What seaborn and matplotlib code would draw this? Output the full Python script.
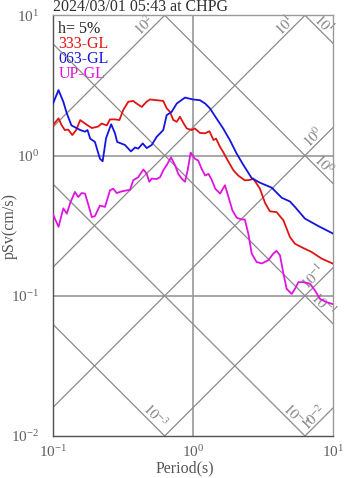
import numpy as np
import pandas as pd
import matplotlib
matplotlib.use("Agg")
import matplotlib.pyplot as plt
import seaborn as sns

# ---- chart text -------------------------------------------------------
title_text = "2024/03/01 05:43 at CHPG"
damping_text = "h= 5%"
series_names = ["333-GL", "063-GL", "UP-GL"]
series_colors = ["#e01414", "#1414e0", "#e014e0"]

# ---- response spectra (period in s, pseudo velocity in cm/s) ------------
period_333 = [0.100, 0.110, 0.116, 0.122, 0.129, 0.138, 0.147, 0.157, 0.170, 0.190,
              0.211, 0.223, 0.243, 0.256, 0.278, 0.299, 0.318, 0.346, 0.375, 0.396,
              0.431, 0.467, 0.493, 0.551, 0.614, 0.649, 0.685, 0.724, 0.766, 0.807,
              0.853, 0.902, 0.977, 1.03, 1.12, 1.22, 1.31, 1.40, 1.46, 1.56,
              1.64, 1.74, 1.94, 2.10, 2.34, 2.55, 2.69, 3.00, 3.26, 3.53,
              3.94, 4.41, 4.91, 5.33, 5.94, 7.01, 8.26, 10.0]
psv_333 = [1.64, 1.84, 1.64, 1.52, 1.53, 1.40, 1.52, 1.79, 1.69, 1.57,
           1.61, 1.69, 1.64, 1.81, 1.81, 1.79, 2.11, 2.42, 2.45, 2.35,
           2.22, 2.42, 2.51, 2.48, 2.45, 2.17, 2.05, 1.79, 1.74, 1.89,
           1.71, 1.56, 1.52, 1.56, 1.45, 1.44, 1.49, 1.29, 1.32, 1.15,
           1.06, 0.95, 0.785, 0.72, 0.665, 0.67, 0.685, 0.58, 0.46, 0.40,
           0.395, 0.345, 0.262, 0.235, 0.222, 0.205, 0.184, 0.169]

period_063 = [0.100, 0.110, 0.119, 0.126, 0.136, 0.157, 0.170, 0.177, 0.185, 0.200,
              0.217, 0.227, 0.240, 0.261, 0.278, 0.288, 0.327, 0.361, 0.386, 0.407,
              0.438, 0.468, 0.508, 0.551, 0.614, 0.649, 0.705, 0.766, 0.877, 1.00,
              1.12, 1.22, 1.32, 1.47, 1.64, 1.83, 2.05, 2.28, 2.62, 3.00,
              3.64, 4.29, 4.91, 5.33, 6.28, 7.78, 10.0]
psv_063 = [2.32, 2.93, 2.42, 2.00, 1.64, 1.52, 1.48, 1.52, 1.32, 1.25,
           0.95, 0.91, 1.33, 1.67, 1.44, 1.25, 1.19, 1.07, 1.14, 1.12,
           1.22, 1.13, 1.19, 1.36, 1.52, 1.94, 2.05, 2.35, 2.59, 2.51,
           2.48, 2.35, 2.17, 1.84, 1.56, 1.29, 1.03, 0.86, 0.69, 0.64,
           0.59, 0.50, 0.47, 0.43, 0.355, 0.315, 0.277]

period_up = [0.100, 0.110, 0.119, 0.126, 0.134, 0.144, 0.152, 0.161, 0.170, 0.179,
             0.190, 0.200, 0.217, 0.236, 0.256, 0.270, 0.286, 0.310, 0.356, 0.375,
             0.407, 0.443, 0.468, 0.488, 0.508, 0.551, 0.582, 0.614, 0.649, 0.697,
             0.745, 0.785, 0.830, 0.877, 0.916, 0.962, 1.03, 1.09, 1.15, 1.22,
             1.29, 1.36, 1.44, 1.56, 1.69, 1.79, 1.91, 2.05, 2.22, 2.34,
             2.48, 2.62, 2.84, 3.09, 3.44, 3.74, 3.94, 4.17, 4.41, 4.65,
             5.05, 5.33, 5.64, 6.11, 6.82, 7.40, 8.04, 8.95, 10.0]
psv_up = [0.385, 0.31, 0.42, 0.385, 0.466, 0.55, 0.506, 0.54, 0.535, 0.45,
          0.364, 0.37, 0.44, 0.43, 0.565, 0.58, 0.54, 0.555, 0.57, 0.667,
          0.70, 0.795, 0.74, 0.65, 0.685, 0.68, 0.70, 0.785, 0.853, 0.97,
          0.853, 0.74, 0.685, 0.65, 0.785, 1.05, 0.95, 0.92, 0.807, 0.72,
          0.74, 0.67, 0.58, 0.535, 0.614, 0.506, 0.406, 0.36, 0.35, 0.35,
          0.277, 0.20, 0.174, 0.17, 0.179, 0.20, 0.209, 0.194, 0.144, 0.112,
          0.103, 0.112, 0.125, 0.125, 0.122, 0.109, 0.095, 0.09, 0.087]

# ---- tripartite guide lines ----------------------------------------------
accel_levels = [1e2, 1e1, 1e0, 1e-1, 1e-2]          # cm/s^2
accel_labels = ["10^{2}", "10^{1}", "10^{0}", "10^{-1}", "10^{-2}"]
disp_levels = [1e1, 1e0, 1e-1, 1e-2, 1e-3]          # cm
disp_labels = ["10^{1}", "10^{0}", "10^{-1}", "10^{-3}", "10^{-3}"]

t_min, t_max = 0.1, 10.0
v_min, v_max = 0.01, 10.0

sns.set_style("white")
plt.rcParams["font.family"] = ["Liberation Serif", "DejaVu Serif"]
plt.rcParams["mathtext.fontset"] = "stix"

fig = plt.figure(figsize=(3.47, 4.78), dpi=100)
ax = fig.add_axes([0.1519, 0.0879, 0.8086, 0.8801])
ax.set_xscale("log")
ax.set_yscale("log")
ax.set_xlim(t_min, t_max)
ax.set_ylim(v_min, v_max)

guide_col = "#8a8a8a"
label_col = "#808080"
tt = np.logspace(-1, 1, 50)
two_pi = 2 * np.pi

# grid through the decades inside the frame
ax.axvline(1.0, color="#a0a0a0", lw=1.3, zorder=1)
for v in (1.0, 0.1):
    ax.axhline(v, color="#a0a0a0", lw=1.3, zorder=1)

back = 0.105   # decades back from the end of a guide line
perp = 3.6     # points away from the line

for sa, lab in zip(accel_levels, accel_labels):
    ax.plot(tt, sa * tt / two_pi, color=guide_col, lw=0.9, zorder=1)
    t_top = two_pi * v_max / sa
    if t_top <= t_max:
        lt, lv = np.log10(t_top), np.log10(v_max)
    else:
        lt, lv = np.log10(t_max), np.log10(sa * t_max / two_pi)
    ax.annotate(f"${lab}$", xy=(10 ** (lt - back), 10 ** (lv - back)),
                xytext=(-perp, perp), textcoords="offset points",
                rotation=45, ha="center", va="center", fontsize=10.5,
                color=label_col, zorder=2)

for d, lab in zip(disp_levels, disp_labels):
    ax.plot(tt, two_pi * d / tt, color=guide_col, lw=0.9, zorder=1)
    v_right = two_pi * d / t_max
    if v_right >= v_min:
        lt, lv = np.log10(t_max), np.log10(v_right)
    else:
        lt, lv = np.log10(two_pi * d / v_min), np.log10(v_min)
    ax.annotate(f"${lab}$", xy=(10 ** (lt - back), 10 ** (lv + back)),
                xytext=(perp, perp), textcoords="offset points",
                rotation=-45, ha="center", va="center", fontsize=10.5,
                color=label_col, zorder=2)

# spectra
frames = []
for name, per, psv in zip(series_names,
                          [period_333, period_063, period_up],
                          [psv_333, psv_063, psv_up]):
    frames.append(pd.DataFrame({"Period": per, "pSv": psv, "comp": name}))
spec = pd.concat(frames, ignore_index=True)
sns.lineplot(data=spec, x="Period", y="pSv", hue="comp",
             palette=dict(zip(series_names, series_colors)),
             estimator=None, sort=False, lw=1.3, legend=False, ax=ax, zorder=3)

# frame and ticks
for side in ("left", "bottom"):
    ax.spines[side].set_color("#505050")
    ax.spines[side].set_linewidth(1.0)
for side in ("top", "right"):
    ax.spines[side].set_color("#999999")
    ax.spines[side].set_linewidth(1.0)

ax.tick_params(which="both", direction="out", top=False, right=False,
               colors="#606060", labelcolor="#606060", labelsize=11)
ax.tick_params(axis="y", which="major", length=4.5, width=0.8, pad=5)
ax.tick_params(axis="y", which="minor", length=2.5, width=0.7)
ax.tick_params(axis="x", which="major", length=4, width=0.8, pad=2)
ax.tick_params(axis="x", which="minor", length=2.5, width=0.7)
ax.yaxis.set_major_locator(matplotlib.ticker.LogLocator(base=10, numticks=10))
ax.yaxis.set_minor_locator(matplotlib.ticker.LogLocator(base=10, subs=np.arange(2, 10), numticks=20))
ax.xaxis.set_minor_locator(matplotlib.ticker.LogLocator(base=10, subs=np.arange(2, 10), numticks=20))
ax.yaxis.set_minor_formatter(matplotlib.ticker.NullFormatter())
ax.xaxis.set_minor_formatter(matplotlib.ticker.NullFormatter())

ax.set_xlabel("Period(s)", fontsize=11.5, color="#555555")
ax.xaxis.set_label_coords(0.47, -0.059)
ax.set_ylabel("pSv(cm/s)", fontsize=11.5, color="#555555")
ax.yaxis.set_label_coords(-0.125, 0.5)

# legend block
ax.text(0.02, 0.958, damping_text, transform=ax.transAxes, fontsize=11.5,
        color="#202020", va="baseline", zorder=4)
for i, (name, col) in enumerate(zip(series_names, series_colors)):
    ax.text(0.02, 0.9225 - 0.0355 * i, name, transform=ax.transAxes,
            fontsize=11.5, color=col, va="baseline", zorder=0.5)

fig.text(0.1519, 1 - 11 / 478, title_text, fontsize=11.5, color="#303030",
         va="baseline", ha="left")

fig.savefig("out.png", dpi=100)
